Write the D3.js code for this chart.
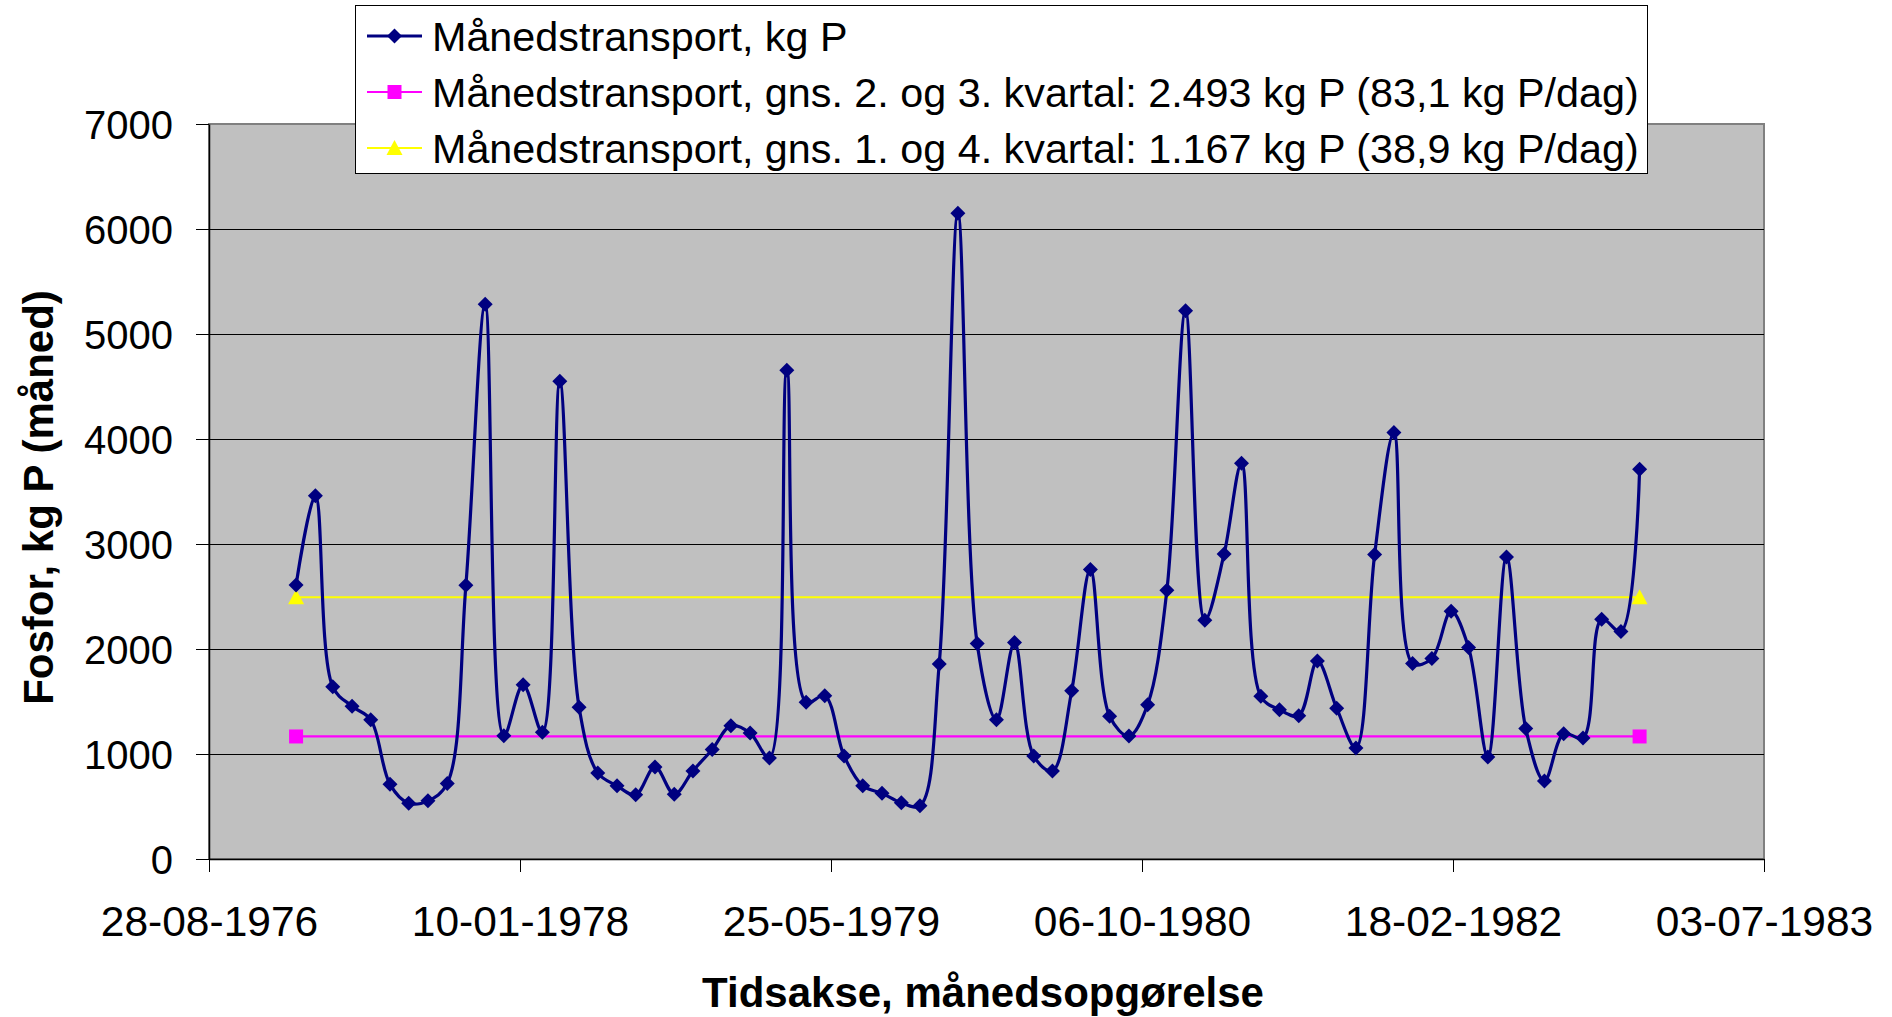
<!DOCTYPE html>
<html lang="da">
<head>
<meta charset="utf-8">
<title>Fosfor, månedstransport</title>
<script src="https://cdn.jsdelivr.net/npm/d3@7"></script>
<style>
  html, body { margin: 0; padding: 0; background: #ffffff; }
  svg { display: block; }
  text { font-family: "Liberation Sans", Arial, sans-serif; fill: #000; }
</style>
</head>
<body>
<svg id="chart" width="1892" height="1017"></svg>
<script>
// Monthly observation dates (mid-month), Jan 1977 - Dec 1982
const months = [
  "15-01-1977","15-02-1977","15-03-1977","15-04-1977","15-05-1977","15-06-1977",
  "15-07-1977","15-08-1977","15-09-1977","15-10-1977","15-11-1977","15-12-1977",
  "15-01-1978","15-02-1978","15-03-1978","15-04-1978","15-05-1978","15-06-1978",
  "15-07-1978","15-08-1978","15-09-1978","15-10-1978","15-11-1978","15-12-1978",
  "15-01-1979","15-02-1979","15-03-1979","15-04-1979","15-05-1979","15-06-1979",
  "15-07-1979","15-08-1979","15-09-1979","15-10-1979","15-11-1979","15-12-1979",
  "15-01-1980","15-02-1980","15-03-1980","15-04-1980","15-05-1980","15-06-1980",
  "15-07-1980","15-08-1980","15-09-1980","15-10-1980","15-11-1980","15-12-1980",
  "15-01-1981","15-02-1981","15-03-1981","15-04-1981","15-05-1981","15-06-1981",
  "15-07-1981","15-08-1981","15-09-1981","15-10-1981","15-11-1981","15-12-1981",
  "15-01-1982","15-02-1982","15-03-1982","15-04-1982","15-05-1982","15-06-1982",
  "15-07-1982","15-08-1982","15-09-1982","15-10-1982","15-11-1982","15-12-1982"
];

// Monthly phosphorus transport, kg P
const monthlyTransport = [
  2610, 3460, 1640, 1455, 1327,  711,  531,  554,  720, 2607, 5284, 1175,
  1659, 1208, 4549, 1445,  820,  697,  611,  877,  616,  839, 1043, 1270,
  1199,  962, 4654, 1493, 1554,  981,  697,  626,  535,  507, 1858, 6151,
  2052, 1327, 2061,  981,  839, 1602, 2758, 1360, 1171, 1469, 2559, 5222,
  2275, 2905, 3768, 1550, 1422, 1365, 1886, 1436, 1057, 2900, 4061, 1862,
  1910, 2360, 2014,  971, 2877, 1242,  744, 1194, 1152, 2284, 2166, 3711
];

// Average levels, kg P per month
const avgPink = 1167;
const avgYellow = 2493;

// Axis ticks
const xTickLabels = ["28-08-1976","10-01-1978","25-05-1979","06-10-1980","18-02-1982","03-07-1983"];
const yTicks = [0, 1000, 2000, 3000, 4000, 5000, 6000, 7000];

const legendLabels = [
  "Månedstransport, kg P",
  "Månedstransport, gns. 2. og 3. kvartal: 2.493 kg P (83,1 kg P/dag)",
  "Månedstransport, gns. 1. og 4. kvartal: 1.167 kg P (38,9 kg P/dag)"
];

const parse = d3.utcParse("%d-%m-%Y");
const dates = months.map(parse);
const tickDates = xTickLabels.map(parse);

const plot = { left: 209, right: 1764, top: 124, bottom: 859 };

const svg = d3.select("#chart");

const x = d3.scaleUtc()
  .domain([tickDates[0], tickDates[tickDates.length - 1]])
  .range([plot.left, plot.right]);

const y = d3.scaleLinear()
  .domain([0, 7000])
  .range([plot.bottom, plot.top]);

// Plot area
svg.append("rect")
  .attr("x", plot.left).attr("y", plot.top)
  .attr("width", plot.right - plot.left).attr("height", plot.bottom - plot.top)
  .attr("fill", "#c0c0c0").attr("stroke", "#808080").attr("stroke-width", 2);

// Horizontal gridlines
svg.append("g")
  .selectAll("line")
  .data(yTicks.filter(v => v > 0 && v < 7000))
  .join("line")
  .attr("x1", plot.left).attr("x2", plot.right)
  .attr("y1", d => Math.round(y(d)) + 0.5).attr("y2", d => Math.round(y(d)) + 0.5)
  .attr("stroke", "#000").attr("stroke-width", 1);

// Y axis
const yAxis = svg.append("g")
  .attr("transform", `translate(${plot.left},0)`)
  .call(d3.axisLeft(y).tickValues(yTicks).tickSize(13).tickSizeOuter(0).tickPadding(23)
    .tickFormat(d3.format("d")));
yAxis.select(".domain").attr("stroke", "#000").attr("stroke-width", 1.5);
yAxis.selectAll(".tick line").attr("stroke", "#000");
yAxis.selectAll(".tick text")
  .style("font-size", "40px")
  .style("font-family", "'Liberation Sans', Arial, sans-serif")
  .attr("dy", "0.36em");

// X axis
const xAxis = svg.append("g")
  .attr("transform", `translate(0,${plot.bottom})`)
  .call(d3.axisBottom(x).tickValues(tickDates).tickSize(13).tickSizeOuter(0).tickPadding(0)
    .tickFormat(d3.utcFormat("%d-%m-%Y")));
xAxis.select(".domain").attr("stroke", "#000").attr("stroke-width", 1.5);
xAxis.selectAll(".tick line").attr("stroke", "#000");
xAxis.selectAll(".tick text")
  .style("font-size", "42.5px")
  .style("font-family", "'Liberation Sans', Arial, sans-serif")
  .attr("y", 77).attr("dy", 0);

// Axis titles
svg.append("text")
  .attr("transform", `translate(53,${(plot.top + plot.bottom) / 2 + 6}) rotate(-90)`)
  .attr("text-anchor", "middle")
  .style("font-size", "42px").style("font-weight", "bold")
  .text("Fosfor, kg P (måned)");

svg.append("text")
  .attr("x", 983).attr("y", 1007)
  .attr("text-anchor", "middle")
  .style("font-size", "42px").style("font-weight", "bold")
  .text("Tidsakse, månedsopgørelse");

// Marker shapes
const diamond = "M0,-7.5L7.5,0L0,7.5L-7.5,0Z";
const square = "M-7,-7H7V7H-7Z";
const triangle = "M0,-8L8,7L-8,7Z";

// Average lines (two points each)
const avgSeries = [
  { value: avgPink, color: "#ff00ff", shape: square },
  { value: avgYellow, color: "#ffff00", shape: triangle }
];
const ends = [dates[0], dates[dates.length - 1]];
avgSeries.forEach(s => {
  const pts = ends.map(d => [x(d), y(s.value)]);
  svg.append("path")
    .attr("d", d3.line()(pts))
    .attr("fill", "none").attr("stroke", s.color).attr("stroke-width", 2.2);
  svg.append("g").selectAll("path")
    .data(pts).join("path")
    .attr("transform", p => `translate(${p[0]},${p[1]})`)
    .attr("d", s.shape).attr("fill", s.color);
});

// Monthly transport, smoothed line
const series = dates.map((d, i) => [x(d), y(monthlyTransport[i])]);
svg.append("path")
  .attr("d", d3.line().curve(d3.curveCatmullRom.alpha(0.5))(series))
  .attr("fill", "none").attr("stroke", "#000080").attr("stroke-width", 3.2)
  .attr("stroke-linejoin", "round");
svg.append("g").selectAll("path")
  .data(series).join("path")
  .attr("transform", p => `translate(${p[0]},${p[1]})`)
  .attr("d", diamond).attr("fill", "#000080");

// Legend
const legend = svg.append("g");
legend.append("rect")
  .attr("x", 355.5).attr("y", 5.5).attr("width", 1292).attr("height", 168)
  .attr("fill", "#fff").attr("stroke", "#000").attr("stroke-width", 1);

const legendItems = [
  { color: "#000080", shape: diamond, width: 3 },
  { color: "#ff00ff", shape: square, width: 2.2 },
  { color: "#ffff00", shape: triangle, width: 2.2 }
];
const rowY = [36, 92, 148];
legendItems.forEach((it, i) => {
  const g = legend.append("g").attr("transform", `translate(0,${rowY[i]})`);
  g.append("line").attr("x1", 367).attr("x2", 422).attr("y1", 0).attr("y2", 0)
    .attr("stroke", it.color).attr("stroke-width", it.width);
  g.append("path").attr("transform", "translate(394.5,0)").attr("d", it.shape)
    .attr("fill", it.color);
  g.append("text").attr("x", 432).attr("y", 0).attr("dy", "0.36em")
    .style("font-size", "41.3px")
    .text(legendLabels[i]);
});
</script>
</body>
</html>
